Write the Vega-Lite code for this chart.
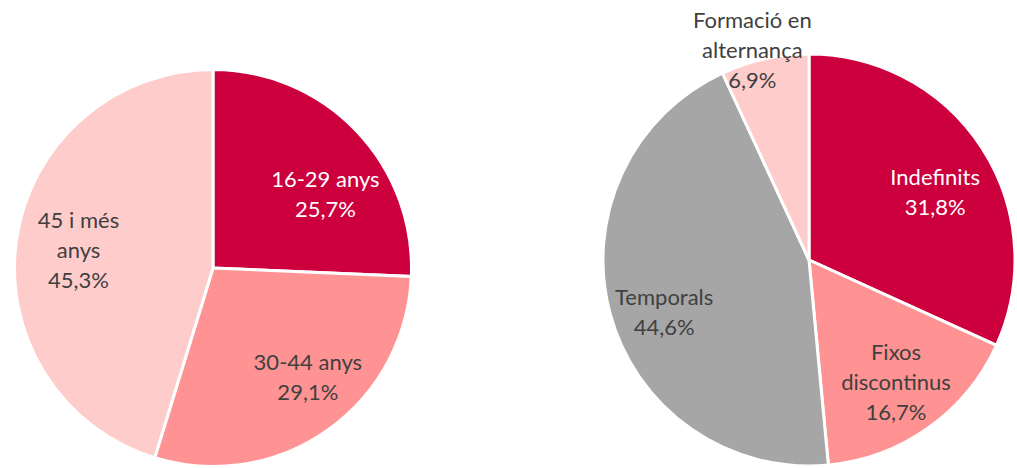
{
  "$schema": "https://vega.github.io/schema/vega-lite/v6.json",
  "background": "white",
  "padding": {"left": 0, "top": 10, "right": 0, "bottom": 0},
  "spacing": 177,
  "bounds": "flush",
  "config": {"view": {"stroke": null}, "font": "Lato"},
  "hconcat": [
    {
      "width": 426,
      "height": 400,
      "data": {"values": [
        {"ordre": 1, "categoria": "16-29 anys", "pct": 25.7, "etiqueta": ["16-29 anys", "25,7%"]},
        {"ordre": 2, "categoria": "30-44 anys", "pct": 29.1, "etiqueta": ["30-44 anys", "29,1%"]},
        {"ordre": 3, "categoria": "45 i més anys", "pct": 45.3, "etiqueta": ["45 i més", "anys", "45,3%"]}
      ]},
      "layer": [
        {
          "mark": {"type": "arc", "outerRadius": 198.5, "stroke": "white", "strokeWidth": 3},
          "encoding": {
            "theta": {"field": "pct", "type": "quantitative", "stack": true},
            "order": {"field": "ordre", "type": "quantitative"},
            "color": {"field": "categoria", "type": "nominal", "legend": null,
              "scale": {"domain": ["16-29 anys", "30-44 anys", "45 i més anys", "Indefinits", "Fixos discontinus", "Temporals", "Formació en alternança"],
                        "range": ["#CC003D", "#FF9393", "#FFCCCC", "#CC003D", "#FF9393", "#A6A6A6", "#FFCCCC"]}}
          }
        },
        {
          "mark": {"type": "text", "radius": 121, "dx": 25, "dy": -4, "fontSize": 22, "lineHeight": 30, "font": "Lato"},
          "encoding": {
            "theta": {"field": "pct", "type": "quantitative", "stack": true},
            "order": {"field": "ordre", "type": "quantitative"},
            "detail": {"field": "categoria", "type": "nominal"},
            "text": {"condition": {"test": "length(datum.etiqueta) === 2", "field": "etiqueta"}, "value": ""},
            "color": {"condition": {"test": "datum.ordre === 1", "value": "white"}, "value": "#404040"}
          }
        },
        {
          "mark": {"type": "text", "radius": 136, "dy": -27, "fontSize": 22, "lineHeight": 30, "font": "Lato"},
          "encoding": {
            "theta": {"field": "pct", "type": "quantitative", "stack": true},
            "order": {"field": "ordre", "type": "quantitative"},
            "detail": {"field": "categoria", "type": "nominal"},
            "text": {"condition": {"test": "length(datum.etiqueta) === 3", "field": "etiqueta"}, "value": ""},
            "color": {"value": "#404040"}
          }
        }
      ]
    },
    {
      "width": 412,
      "height": 384,
      "data": {"values": [
        {"ordre": 1, "categoria": "Indefinits", "pct": 31.8, "etiqueta": ["Indefinits", "31,8%"]},
        {"ordre": 2, "categoria": "Fixos discontinus", "pct": 16.7, "etiqueta": ["Fixos", "discontinus", "16,7%"]},
        {"ordre": 3, "categoria": "Temporals", "pct": 44.6, "etiqueta": ["Temporals", "44,6%"]},
        {"ordre": 4, "categoria": "Formació en alternança", "pct": 6.9, "etiqueta": ["Formació en", "alternança", "6,9%"]}
      ]},
      "layer": [
        {
          "mark": {"type": "arc", "outerRadius": 206, "stroke": "white", "strokeWidth": 3},
          "encoding": {
            "theta": {"field": "pct", "type": "quantitative", "stack": true},
            "order": {"field": "ordre", "type": "quantitative"},
            "color": {"field": "categoria", "type": "nominal", "legend": null}
          }
        },
        {
          "mark": {"type": "text", "radius": 150, "dy": -1, "fontSize": 22, "lineHeight": 30, "font": "Lato"},
          "encoding": {
            "theta": {"field": "pct", "type": "quantitative", "stack": true},
            "order": {"field": "ordre", "type": "quantitative"},
            "detail": {"field": "categoria", "type": "nominal"},
            "text": {"condition": {"test": "length(datum.etiqueta) === 2", "field": "etiqueta"}, "value": ""},
            "color": {"condition": {"test": "datum.ordre === 1", "value": "white"}, "value": "#404040"}
          }
        },
        {
          "mark": {"type": "text", "radius": 150, "dy": -29, "fontSize": 22, "lineHeight": 30, "font": "Lato"},
          "encoding": {
            "theta": {"field": "pct", "type": "quantitative", "stack": true},
            "order": {"field": "ordre", "type": "quantitative"},
            "detail": {"field": "categoria", "type": "nominal"},
            "text": {"condition": {"test": "length(datum.etiqueta) === 3 && datum.pct >= 10", "field": "etiqueta"}, "value": ""},
            "color": {"value": "#404040"}
          }
        },
        {
          "mark": {"type": "text", "radius": 217, "dx": -10, "dy": -27, "fontSize": 22, "lineHeight": 30, "font": "Lato"},
          "encoding": {
            "theta": {"field": "pct", "type": "quantitative", "stack": true},
            "order": {"field": "ordre", "type": "quantitative"},
            "detail": {"field": "categoria", "type": "nominal"},
            "text": {"condition": {"test": "datum.pct < 10", "field": "etiqueta"}, "value": ""},
            "color": {"value": "#404040"}
          }
        }
      ]
    }
  ]
}
